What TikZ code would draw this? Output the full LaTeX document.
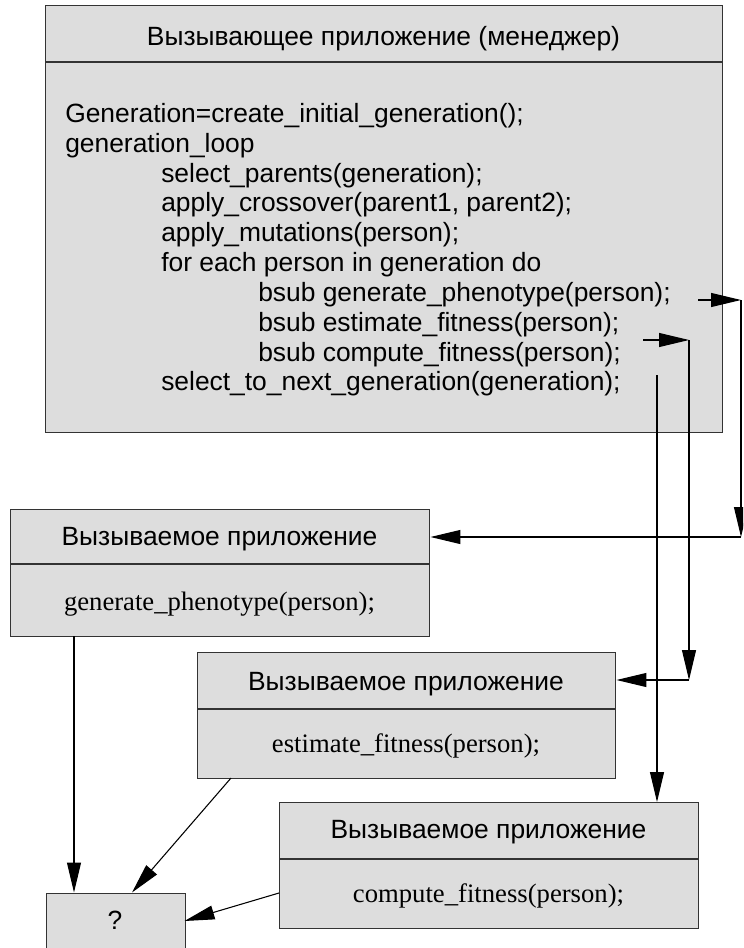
\documentclass[tikz,border=0pt]{standalone}
\usepackage{fontspec}
\setmainfont{Liberation Serif}
\setsansfont{Liberation Sans}
\usetikzlibrary{arrows.meta}
\definecolor{boxfill}{RGB}{221,221,221}
\definecolor{boxline}{RGB}{51,51,51}
\begin{document}
\begin{tikzpicture}[x=0.75pt,y=-0.75pt,
  box/.style={draw=boxline, fill=boxfill, line width=1.1pt, inner sep=0pt, anchor=north west},
  divline/.style={draw=boxline, line width=1.1pt},
  sanstxt/.style={font=\sffamily\fontsize{19.8pt}{22pt}\selectfont, inner sep=0pt},
  seriftxt/.style={font=\rmfamily\fontsize{20pt}{22pt}\selectfont, inner sep=0pt},
  codeline/.style={sanstxt, anchor=base west},
  conn/.style={draw=black, line width=0.8pt, -{Triangle[length=22.5pt,width=10.5pt]}}]
\useasboundingbox (0,0) rectangle (743,948);
\clip (0,0) rectangle (743,948);
\fill[white] (0,0) rectangle (743,948);

% main box
\node[box, minimum width=507.75pt, minimum height=320.25pt] (main) at (45,5) {};
\draw[divline] (45,62) -- (722,62);
\node[sanstxt, anchor=base] (maintitle) at (383.5,46) {Вызывающее приложение (менеджер)};
\node[codeline] (l1) at (65,123) {Generation=create\_initial\_generation();};
\node[codeline] (l2) at (65,153) {generation\_loop};
\node[codeline] (l3) at (161,182.5) {select\_parents(generation);};
\node[codeline] (l4) at (161,212) {apply\_crossover(parent1, parent2);};
\node[codeline] (l5) at (161,242) {apply\_mutations(person);};
\node[codeline] (l6) at (161,272) {for each person in generation do};
\node[codeline] (l7) at (258,301.5) {bsub generate\_phenotype(person);};
\node[codeline] (l8) at (258,331) {bsub estimate\_fitness(person);};
\node[codeline] (l9) at (258,361) {bsub compute\_fitness(person);};
\node[codeline] (l10) at (161,390.5) {select\_to\_next\_generation(generation);};

% box A
\node[box, minimum width=314.25pt, minimum height=95.25pt] (boxA) at (10,509) {};
\draw[divline] (10,564) -- (429,564);
\node[sanstxt, anchor=base] (titleA) at (219.5,545) {Вызываемое приложение};
\node[seriftxt, anchor=base] (textA) at (219.5,610) {generate\_phenotype(person);};

% box B
\node[box, minimum width=313.5pt, minimum height=94.5pt] (boxB) at (197,652) {};
\draw[divline] (197,709) -- (615,709);
\node[sanstxt, anchor=base] (titleB) at (406,690) {Вызываемое приложение};
\node[seriftxt, anchor=base] (textB) at (406,752) {estimate\_fitness(person);};

% box C
\node[box, minimum width=314.25pt, minimum height=94.5pt] (boxC) at (279,802) {};
\draw[divline] (279,859) -- (698,859);
\node[sanstxt, anchor=base] (titleC) at (488.5,838) {Вызываемое приложение};
\node[seriftxt, anchor=base] (textC) at (488.5,902) {compute\_fitness(person);};

% box ?
\node[box, minimum width=104.25pt, minimum height=60pt] (boxQ) at (45.5,892.5) {};
\node[sanstxt, anchor=base] (textQ) at (115,929) {?};

% connectors from the manager
\coordinate (a1) at (698,300);
\coordinate (a2) at (741,300);
\coordinate (a3) at (741,537);
\draw[conn] (a1) -- (a2);
\draw[conn] (a2) -- (a3);
\draw[conn] (a3) -- (a3 -| boxA.east);

\coordinate (b1) at (643,340);
\coordinate (b2) at (689,340);
\coordinate (b3) at (689,680);
\draw[conn] (b1) -- (b2);
\draw[conn] (b2) -- (b3);
\draw[conn] (b3) -- (b3 -| boxB.east);

\coordinate (c1) at (657,375);
\draw[conn] (c1) -- (c1 |- boxC.north);

% connectors to ?
\coordinate (d1) at (74,636);
\draw[conn] (d1) -- (d1 |- boxQ.north);
\coordinate (e1) at (231,778);
\coordinate (e2) at (132,892.5);
\draw[conn] (e1) -- (e2);
\coordinate (f1) at (279,893);
\coordinate (f2) at (184.5,921);
\draw[conn] (f1) -- (f2);
\end{tikzpicture}
\end{document}
